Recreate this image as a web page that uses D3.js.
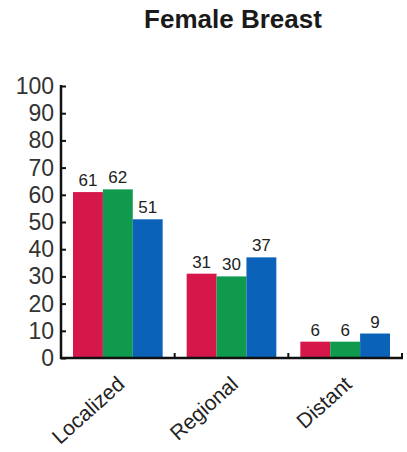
<!DOCTYPE html>
<html>
<head>
<meta charset="utf-8">
<script src="https://cdn.jsdelivr.net/npm/d3@7"></script>
<style>
  html, body { margin: 0; padding: 0; background: #fff; }
  svg { display: block; font-family: "Liberation Sans", Arial, Helvetica, sans-serif; }
</style>
</head>
<body>
<svg id="chart" width="407" height="452"></svg>
<script>
// Survival by stage at diagnosis, three series per stage
const title = "Female Breast";
const categories = ["Localized", "Regional", "Distant"];
const seriesNames = ["s1", "s2", "s3"];
const series1 = [61, 31, 6];
const series2 = [62, 30, 6];
const series3 = [51, 37, 9];
const yTicks = [0, 10, 20, 30, 40, 50, 60, 70, 80, 90, 100];
const colors = ["#d6174a", "#0f9a4e", "#0a63b8"];

const allSeries = [series1, series2, series3];
const rows = categories.map((c, i) => ({
  category: c,
  values: seriesNames.map((s, j) => ({ key: s, value: allSeries[j][i] }))
}));

const svg = d3.select("#chart");
const plotLeft = 61, plotRight = 402, plotTop = 86, plotBottom = 358;

const x0 = d3.scaleBand().domain(categories).range([plotLeft, plotRight]).padding(0);
const x1 = d3.scaleBand().domain(seriesNames)
  .range([12, x0.bandwidth() - 12]).paddingInner(0).paddingOuter(0);
const y = d3.scaleLinear().domain([0, 100]).range([plotBottom, plotTop]);
const color = d3.scaleOrdinal().domain(seriesNames).range(colors);

// Title
svg.append("text")
  .attr("x", 233).attr("y", 28)
  .attr("text-anchor", "middle")
  .attr("font-weight", "bold")
  .attr("font-size", 26)
  .attr("fill", "#1a1a1a")
  .text(title);

// Bars
const groups = svg.append("g").selectAll("g").data(rows).join("g")
  .attr("transform", d => `translate(${x0(d.category)},0)`);

groups.selectAll("rect").data(d => d.values).join("rect")
  .attr("x", d => x1(d.key))
  .attr("y", d => y(d.value))
  .attr("width", x1.bandwidth())
  .attr("height", d => y(0) - y(d.value))
  .attr("fill", d => color(d.key));

groups.selectAll("text").data(d => d.values).join("text")
  .attr("x", d => x1(d.key) + x1.bandwidth() / 2)
  .attr("y", d => y(d.value) - 6)
  .attr("text-anchor", "middle")
  .attr("font-size", 17)
  .attr("fill", "#222")
  .text(d => d.value);

// Y axis: ticks pointing inward
const yAxis = svg.append("g")
  .attr("transform", `translate(${plotLeft},0)`)
  .call(d3.axisRight(y).tickValues(yTicks).tickSize(5).tickFormat(""));
yAxis.select(".domain").remove();
yAxis.selectAll(".tick line").attr("stroke", "#111").attr("stroke-width", 2);
svg.append("line")
  .attr("x1", plotLeft).attr("x2", plotLeft)
  .attr("y1", y(100) - 1).attr("y2", plotBottom + 1)
  .attr("stroke", "#111").attr("stroke-width", 2.5);
svg.append("g").selectAll("text").data(yTicks).join("text")
  .attr("x", 54)
  .attr("y", d => y(d) + 8)
  .attr("text-anchor", "end")
  .attr("font-size", 23)
  .attr("fill", "#333")
  .text(d => d);

// X axis baseline with small upward ticks at group boundaries
svg.append("line")
  .attr("x1", plotLeft - 1).attr("x2", plotRight + 1)
  .attr("y1", plotBottom).attr("y2", plotBottom)
  .attr("stroke", "#111").attr("stroke-width", 2.5);
svg.append("g").selectAll("line").data(categories).join("line")
  .attr("x1", d => x0(d) + x0.bandwidth())
  .attr("x2", d => x0(d) + x0.bandwidth())
  .attr("y1", plotBottom).attr("y2", plotBottom - 5)
  .attr("stroke", "#111").attr("stroke-width", 2);

// Category labels, rotated
svg.append("g").selectAll("text").data(categories).join("text")
  .attr("transform", d => `translate(${x0(d) + x0.bandwidth() / 2 + 8},${plotBottom + 28}) rotate(-42)`)
  .attr("text-anchor", "end")
  .attr("font-size", 21)
  .attr("fill", "#222")
  .text(d => d);
</script>
</body>
</html>
